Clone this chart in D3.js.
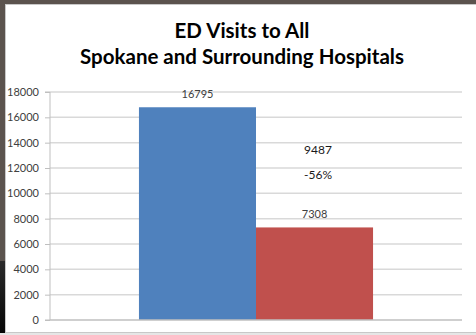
<!DOCTYPE html>
<html>
<head>
<meta charset="utf-8">
<script src="https://cdn.jsdelivr.net/npm/d3@7"></script>
<style>
	body { margin: 0; background: #5b534e; }
	svg { display: block; }
</style>
</head>
<body>
<script>

// chart data
var categories = ['ED Visits']
var seriesNames = ['Before', 'After']
var seriesValues = [16795, 7308]
var yTicks = [0, 2000, 4000, 6000, 8000, 10000, 12000, 14000, 16000, 18000]
var titleLines = ['ED Visits to All', 'Spokane and Surrounding Hospitals']
var notes = ['9487', '-56%']

var colors = ['#4f81bd', '#c0504d']

var width = 476
var height = 335

var svg = d3.select('body')
	.append('svg')
	.attr('width', width)
	.attr('height', height)

// slide frame round the chart
var grad = svg.append('defs').append('linearGradient')
	.attr('id', 'dark')
	.attr('x1', 0).attr('y1', 0).attr('x2', 0).attr('y2', 1)
grad.append('stop').attr('offset', '0%').attr('stop-color', '#2a2a2a')
grad.append('stop').attr('offset', '100%').attr('stop-color', '#050505')

svg.append('rect')
	.attr('width', width)
	.attr('height', height)
	.attr('fill', '#5b534e')

svg.append('rect')
	.attr('x', 0).attr('y', 261)
	.attr('width', 6).attr('height', height - 261)
	.attr('fill', 'url(#dark)')

svg.append('rect')
	.attr('x', 5.5).attr('y', 4.5)
	.attr('width', width).attr('height', 328)
	.attr('fill', '#ffffff')
	.attr('stroke', '#c8c8c8')

svg.append('rect')
	.attr('x', 0).attr('y', 333)
	.attr('width', width).attr('height', 2)
	.attr('fill', '#e6e6e6')

// title
svg.append('g')
	.selectAll('text')
	.data(titleLines)
	.enter()
	.append('text')
		.attr('x', 242)
		.attr('y', (d, i) => 38 + i * 25.5)
		.attr('text-anchor', 'middle')
		.attr('font-family', 'Lato, sans-serif')
		.attr('font-weight', 'bold')
		.attr('font-size', 20.5)
		.attr('fill', '#000')
		.text(d => d)

var margin = { top: 92, right: 14, bottom: 15, left: 50 }
var plotW = width - margin.left - margin.right
var plotH = height - margin.top - margin.bottom

var graph = svg.append('g')
	.attr('transform', `translate(${margin.left}, ${margin.top})`)

var xScale = d3.scaleBand()
	.domain(categories)
	.range([0, plotW])
	.paddingOuter(0.38)
	.paddingInner(0)

var xSeries = d3.scaleBand()
	.domain(seriesNames)
	.range([0, xScale.bandwidth()])

var yScale = d3.scaleLinear()
	.domain([0, 18000])
	.range([plotH, 0])

// gridlines
graph.append('g')
	.selectAll('line')
	.data(yTicks.slice(1))
	.enter()
	.append('line')
		.attr('x1', 0)
		.attr('x2', plotW)
		.attr('y1', d => yScale(d))
		.attr('y2', d => yScale(d))
		.attr('stroke', '#d9d9d9')
		.attr('stroke-width', 1.5)

// y axis
var yAxis = graph.append('g')
	.call(d3.axisLeft(yScale).tickValues(yTicks).tickSize(5).tickPadding(6).tickFormat(d3.format('d')))
yAxis.select('.domain').attr('stroke', '#bfbfbf').attr('d', `M-5,${plotH}H0V0H-5`)
yAxis.selectAll('.tick line').attr('stroke', '#bfbfbf')
yAxis.selectAll('.tick text')
	.attr('font-family', 'Lato, sans-serif')
	.attr('font-size', 11)
	.attr('fill', '#404040')

// bars
var bars = graph.append('g')
	.attr('transform', `translate(${xScale(categories[0])}, 0)`)

bars.selectAll('rect')
	.data(seriesValues)
	.enter()
	.append('rect')
		.attr('x', (d, i) => xSeries(seriesNames[i]))
		.attr('y', d => yScale(d))
		.attr('width', xSeries.bandwidth())
		.attr('height', d => plotH - yScale(d))
		.attr('fill', (d, i) => colors[i])

bars.selectAll('text')
	.data(seriesValues)
	.enter()
	.append('text')
		.attr('x', (d, i) => xSeries(seriesNames[i]) + xSeries.bandwidth() / 2)
		.attr('y', d => yScale(d) - 9)
		.attr('text-anchor', 'middle')
		.attr('font-family', 'Lato, sans-serif')
		.attr('font-size', 11)
		.attr('fill', '#404040')
		.text(d => d)

// x axis line
graph.append('line')
	.attr('x1', 0).attr('x2', plotW)
	.attr('y1', plotH).attr('y2', plotH)
	.attr('stroke', '#bfbfbf')
	.attr('stroke-width', 1.5)

// difference note in the plot
graph.append('g')
	.selectAll('text')
	.data(notes)
	.enter()
	.append('text')
		.attr('x', 268)
		.attr('y', (d, i) => 62 + i * 25)
		.attr('text-anchor', 'middle')
		.attr('font-family', 'Lato, sans-serif')
		.attr('font-size', 12)
		.attr('fill', '#1a1a1a')
		.text(d => d)

</script>
</body>
</html>
